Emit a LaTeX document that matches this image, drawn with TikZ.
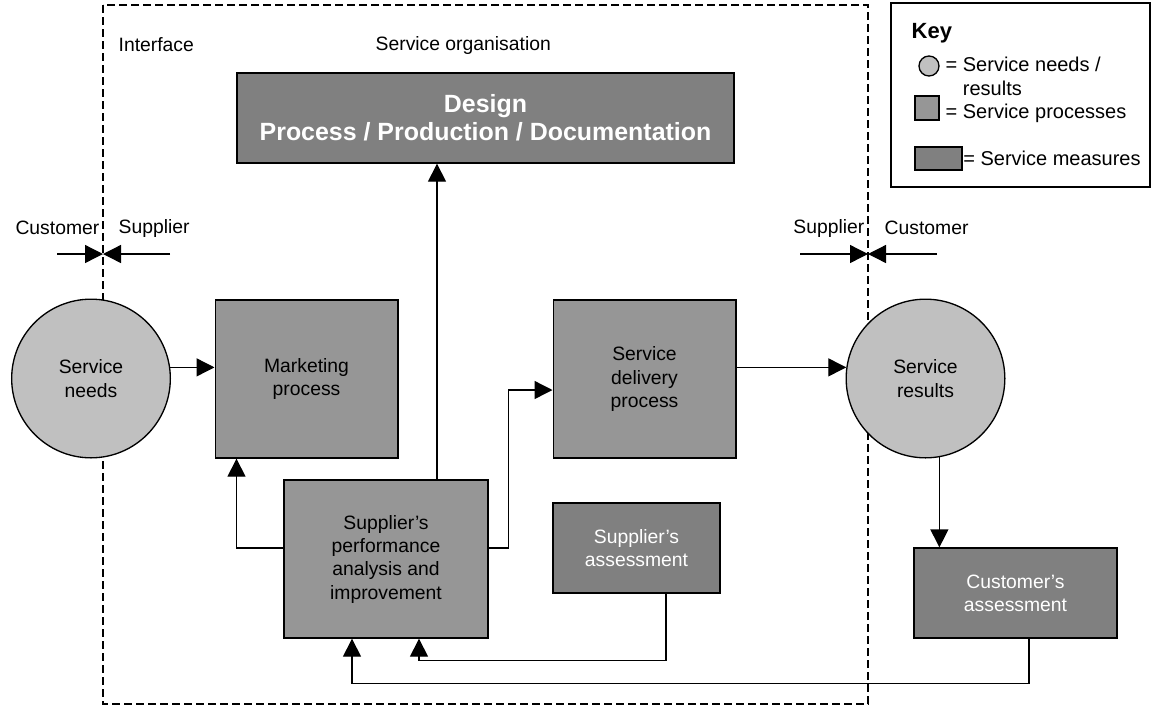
\documentclass[tikz,border=0pt]{standalone}
\usepackage{fontspec}
\setmainfont{Liberation Sans}
\usetikzlibrary{arrows.meta}
\definecolor{needgray}{HTML}{C0C0C0}
\definecolor{procgray}{HTML}{969696}
\definecolor{measgray}{HTML}{808080}

\begin{document}
\begin{tikzpicture}[x=0.75pt, y=-0.75pt, line width=1pt, font=\fontsize{14.5}{17.5}\selectfont,
  arr/.style={-{Triangle[length=13.5pt, width=13.5pt]}},
  need/.style={circle, draw, fill=needgray, inner sep=0pt, minimum size=119pt, align=center},
  proc/.style={rectangle, draw, fill=procgray, inner sep=0pt, minimum width=137pt, minimum height=118.5pt, align=center},
  meas/.style={rectangle, draw, fill=measgray, text=white, inner sep=0pt, minimum height=67.5pt, align=center},
  label/.style={inner sep=0pt},
  boundary/.style={dashed, dash pattern=on 6pt off 3pt}]

  \useasboundingbox (0,0) rectangle (1156,708);

  % service organisation boundary
  \coordinate (orgtl) at (103,5);
  \coordinate (orgbr) at (868,704);
  \draw[boundary] (orgtl) rectangle (orgbr);
  \node[label, anchor=west] (interface) at (118,45) {Interface};
  \node[label, anchor=west] (orgname) at (375,45) {Service organisation};

  \node[label, anchor=east] (lcusttxt) at (100,228) {Customer};
  \node[label, anchor=west] (lsuptxt) at (118,228) {Supplier};
  \node[label, anchor=east] (rsuptxt) at (865,228) {Supplier};
  \node[label, anchor=west] (rcusttxt) at (884,228) {Customer};
  \coordinate (lcust) at (57,254);
  \coordinate (lsup) at (170,254);
  \coordinate (rsup) at (800,254);
  \coordinate (rcust) at (937,254);
  \draw[arr] (lcust) -- (lcust -| orgtl);
  \draw[arr] (lsup) -- (lsup -| orgtl);
  \draw[arr] (rsup) -- (rsup -| orgbr);
  \draw[arr] (rcust) -- (rcust -| orgbr);

  \node[meas, minimum width=372.75pt, font=\fontsize{18.7}{21}\selectfont\bfseries] (design) at (485.5,118) {Design\\Process / Production / Documentation};

  \node[need] (needs) at (91,378.5) {Service\\needs};
  \node[proc] (marketing) at (306.5,379) {Marketing\\process};
  \node[proc] (delivery) at (644.5,379) {Service\\delivery\\process};
  \node[need] (results) at (925.5,378.5) {Service\\results};
  \node[proc, minimum width=153pt] (perf) at (386,559) {Supplier’s\\performance\\analysis and\\improvement};
  \node[meas, minimum width=125.25pt] (supassess) at (636.5,548) {Supplier’s\\assessment};
  \node[meas, minimum width=152.25pt] (custassess) at (1015.5,593) {Customer’s\\assessment};

  \draw[arr] (needs.8) -- (needs.8 -| marketing.west);
  \draw[arr] (results.172 -| delivery.east) -- (results.172);
  \draw[arr] (results.-80) -- (results.-80 |- custassess.north);
  \draw[arr] ([xshift=38.25pt]perf.north) -- ([xshift=38.25pt]perf.north |- design.south);
  \draw[arr] ([yshift=8.25pt]perf.west) -| ([xshift=16.5pt]marketing.south west);
  \draw[arr] ([yshift=8.25pt]perf.east) -- ++(20,0) |- ([yshift=-8.25pt]delivery.west);
  \draw[arr] ([xshift=22pt]supassess.south) -- ++(0,67) -| ([xshift=24.75pt]perf.south);
  \draw[arr] ([xshift=10pt]custassess.south) -- ++(0,45) -| ([xshift=-25.5pt]perf.south);

  % key
  \draw (891,3) rectangle (1150,187);
  \node[label, anchor=west, font=\fontsize{16.5}{19}\selectfont\bfseries] (keytitle) at (911,33) {Key};
  \node[circle, draw, fill=needgray, inner sep=0pt, minimum size=15pt] (keyneed) at (929,66) {};
  \node[label, anchor=west, align=left, font=\fontsize{15}{18}\selectfont] (keyneedtxt) at (945,76) {= Service needs /\\\phantom{= }results};
  \node[rectangle, draw, fill=procgray, inner sep=0pt, minimum size=18pt] (keyproc) at (927,108) {};
  \node[label, anchor=west, font=\fontsize{15}{18}\selectfont] (keyproctxt) at (945,113) {= Service processes};
  \node[rectangle, draw, fill=measgray, inner sep=0pt, minimum width=35.25pt, minimum height=17.25pt] (keymeas) at (938.5,158.5) {};
  \node[label, anchor=west, font=\fontsize{15}{18}\selectfont] (keymeastxt) at (keymeas.east) {= Service measures};
\end{tikzpicture}
\end{document}
